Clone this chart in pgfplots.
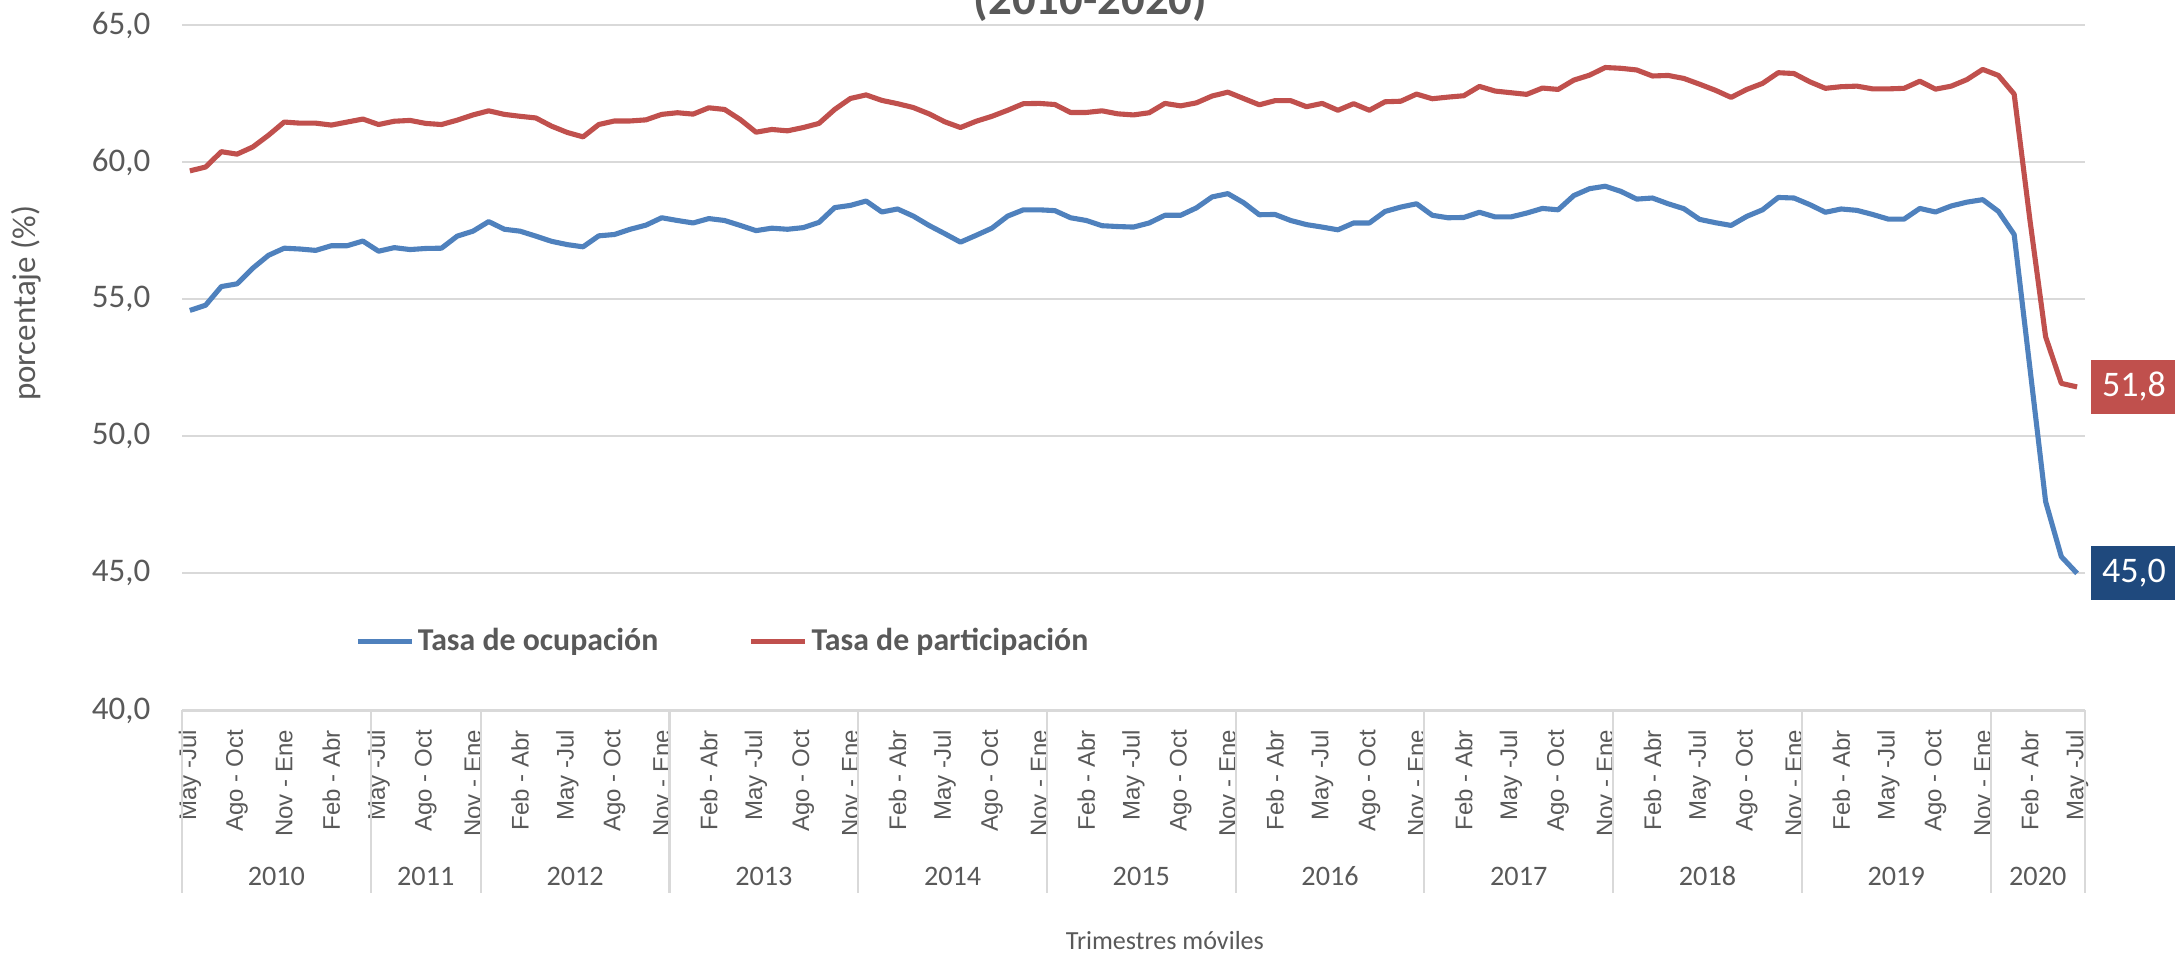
\documentclass[border=0pt]{standalone}
\usepackage{fontspec}
\setmainfont{Carlito}
\newfontfamily\arialf{Liberation Sans}
\usepackage{pgfplots}
\usepackage{pgfplotstable}
\pgfplotsset{compat=1.18}
\definecolor{blueline}{HTML}{4F81BD}
\definecolor{redline}{HTML}{C0504D}
\definecolor{darkblue}{HTML}{1F497D}
\definecolor{txtgray}{HTML}{595959}
\definecolor{gridgray}{HTML}{D9D9D9}

\pgfplotstableread{
i ocup part
0 54.59 59.68
1 54.78 59.82
2 55.46 60.38
3 55.56 60.29
4 56.13 60.55
5 56.60 60.98
6 56.86 61.46
7 56.83 61.42
8 56.78 61.42
9 56.95 61.35
10 56.95 61.46
11 57.12 61.57
12 56.75 61.37
13 56.88 61.49
14 56.81 61.52
15 56.85 61.41
16 56.86 61.37
17 57.30 61.53
18 57.48 61.72
19 57.83 61.87
20 57.55 61.74
21 57.48 61.67
22 57.30 61.61
23 57.11 61.31
24 56.99 61.08
25 56.91 60.92
26 57.31 61.37
27 57.36 61.50
28 57.55 61.50
29 57.70 61.54
30 57.97 61.74
31 57.87 61.80
32 57.78 61.75
33 57.94 61.98
34 57.87 61.92
35 57.69 61.55
36 57.50 61.09
37 57.59 61.19
38 57.55 61.14
39 57.61 61.26
40 57.80 61.41
41 58.34 61.92
42 58.42 62.32
43 58.58 62.45
44 58.18 62.25
45 58.29 62.13
46 58.03 61.99
47 57.69 61.76
48 57.39 61.47
49 57.08 61.26
50 57.33 61.49
51 57.59 61.67
52 58.03 61.89
53 58.26 62.13
54 58.26 62.14
55 58.23 62.10
56 57.97 61.81
57 57.87 61.81
58 57.68 61.87
59 57.65 61.76
60 57.63 61.72
61 57.78 61.80
62 58.06 62.14
63 58.06 62.05
64 58.33 62.16
65 58.73 62.41
66 58.85 62.55
67 58.52 62.32
68 58.08 62.09
69 58.09 62.24
70 57.87 62.24
71 57.72 62.02
72 57.63 62.14
73 57.53 61.89
74 57.78 62.13
75 57.78 61.89
76 58.20 62.20
77 58.36 62.22
78 58.48 62.48
79 58.06 62.31
80 57.97 62.37
81 57.98 62.42
82 58.17 62.76
83 58.00 62.59
84 58.00 62.53
85 58.14 62.47
86 58.31 62.70
87 58.26 62.65
88 58.78 62.99
89 59.03 63.17
90 59.12 63.45
91 58.93 63.42
92 58.65 63.36
93 58.69 63.14
94 58.48 63.16
95 58.30 63.05
96 57.91 62.84
97 57.79 62.62
98 57.69 62.36
99 58.02 62.65
100 58.26 62.87
101 58.71 63.26
102 58.69 63.23
103 58.45 62.93
104 58.17 62.69
105 58.29 62.75
106 58.24 62.77
107 58.09 62.67
108 57.92 62.67
109 57.92 62.69
110 58.31 62.95
111 58.18 62.66
112 58.40 62.77
113 58.54 63.01
114 58.63 63.38
115 58.20 63.16
116 57.36 62.48
117 52.50 57.90
118 47.62 53.63
119 45.61 51.93
120 45.00 51.80
}\datatable

\begin{document}
\begin{tikzpicture}
\begin{axis}[name=ax, scale only axis, width=634.3pt, height=228.5pt,
  xmin=-0.5, xmax=120.5, ymin=40, ymax=65, clip=false,
  axis line style={draw=none}, major tick length=0pt,
  ytick={40,45,50,55,60,65},
  yticklabels={{40,0},{45,0},{50,0},{55,0},{60,0},{65,0}},
  yticklabel style={font=\fontsize{11}{13}\selectfont, text=txtgray, anchor=east, inner sep=0pt, xshift=-10.4pt},
  ymajorgrids, grid style={gridgray, line width=0.7pt},
  xtick={0,3,...,120},
  xticklabels={May -Jul,Ago - Oct,Nov - Ene,Feb - Abr,May -Jul,Ago - Oct,Nov - Ene,Feb - Abr,May -Jul,Ago - Oct,Nov - Ene,Feb - Abr,May -Jul,Ago - Oct,Nov - Ene,Feb - Abr,May -Jul,Ago - Oct,Nov - Ene,Feb - Abr,May -Jul,Ago - Oct,Nov - Ene,Feb - Abr,May -Jul,Ago - Oct,Nov - Ene,Feb - Abr,May -Jul,Ago - Oct,Nov - Ene,Feb - Abr,May -Jul,Ago - Oct,Nov - Ene,Feb - Abr,May -Jul,Ago - Oct,Nov - Ene,Feb - Abr,May -Jul},
  xticklabel style={font=\arialf\fontsize{8}{9.6}\selectfont, text=txtgray, rotate=90, anchor=east, inner sep=0pt, execute at end node={\hspace{6.3pt}}},
  legend style={at={(0.0907,0.1)}, anchor=west, draw=none, fill=none, inner sep=0pt,
    font=\bfseries\fontsize{10.6}{13}\selectfont, text=txtgray,
    /tikz/every even column/.append style={column sep=29pt},
    nodes={inner sep=1.2pt}},
  legend columns=2,
  legend image code/.code={\draw[#1, line width=1.7pt] (0pt,0pt) -- (18pt,0pt);},
]
\addplot[blueline, line width=1.7pt, line join=round] table[x=i, y=ocup] {\datatable};
\addlegendentry{Tasa de ocupación}
\addplot[redline, line width=1.7pt, line join=round] table[x=i, y=part] {\datatable};
\addlegendentry{Tasa de participación}

\coordinate (s1) at (axis cs:-0.5,40);
\coordinate (s2) at (axis cs:11.5,40);
\coordinate (s3) at (axis cs:18.5,40);
\coordinate (s4) at (axis cs:30.5,40);
\coordinate (s5) at (axis cs:42.5,40);
\coordinate (s6) at (axis cs:54.5,40);
\coordinate (s7) at (axis cs:66.5,40);
\coordinate (s8) at (axis cs:78.5,40);
\coordinate (s9) at (axis cs:90.5,40);
\coordinate (s10) at (axis cs:102.5,40);
\coordinate (s11) at (axis cs:114.5,40);
\coordinate (s12) at (axis cs:120.5,40);
\coordinate (y2010) at (axis cs:5.5,40);
\coordinate (y2011) at (axis cs:15,40);
\coordinate (y2012) at (axis cs:24.5,40);
\coordinate (y2013) at (axis cs:36.5,40);
\coordinate (y2014) at (axis cs:48.5,40);
\coordinate (y2015) at (axis cs:60.5,40);
\coordinate (y2016) at (axis cs:72.5,40);
\coordinate (y2017) at (axis cs:84.5,40);
\coordinate (y2018) at (axis cs:96.5,40);
\coordinate (y2019) at (axis cs:108.5,40);
\coordinate (y2020) at (axis cs:117.5,40);
\coordinate (tm) at (axis cs:62,40);
\coordinate (yl) at (axis cs:-0.5,54.85);
\coordinate (lab1) at (axis cs:120,51.8);
\coordinate (lab2) at (axis cs:120,45.0);
\node[anchor=base, font=\bfseries\fontsize{15.6}{18}\selectfont, text=txtgray] at (axis cs:57.27,65.37) {(2010-2020)};
\end{axis}
\foreach \k in {1,...,12}{
  \draw[gridgray, line width=0.7pt] (s\k) -- ++(0,-60.8pt);
}
\foreach \yr in {2010,2011,2012,2013,2014,2015,2016,2017,2018,2019,2020}{
  \path (y\yr) ++(0,-55.2pt) node[font=\fontsize{9.4}{11}\selectfont, text=txtgray] {\yr};
}
\path (tm) ++(0,-76.7pt) node[font=\fontsize{8.7}{10}\selectfont, text=txtgray] {Trimestres móviles};
\path (yl) ++(-51.9pt,0) node[rotate=90, font=\fontsize{11}{13}\selectfont, text=txtgray] {porcentaje (\%)};
\node[anchor=west, fill=redline, text=white, minimum width=29pt, minimum height=18pt, inner sep=0pt, font=\fontsize{12}{14}\selectfont] at ([xshift=4.3pt]lab1) {51,8};
\node[anchor=west, fill=darkblue, text=white, minimum width=29pt, minimum height=18pt, inner sep=0pt, font=\fontsize{12}{14}\selectfont] at ([xshift=4.3pt]lab2) {45,0};
\pgfresetboundingbox
\path (ax.south west) ++(-60.67pt,-81.33pt) coordinate (bl);
\path (ax.south west) ++(664.33pt,236.83pt) coordinate (tr);
\path (bl) rectangle (tr);
\end{tikzpicture}
\end{document}
